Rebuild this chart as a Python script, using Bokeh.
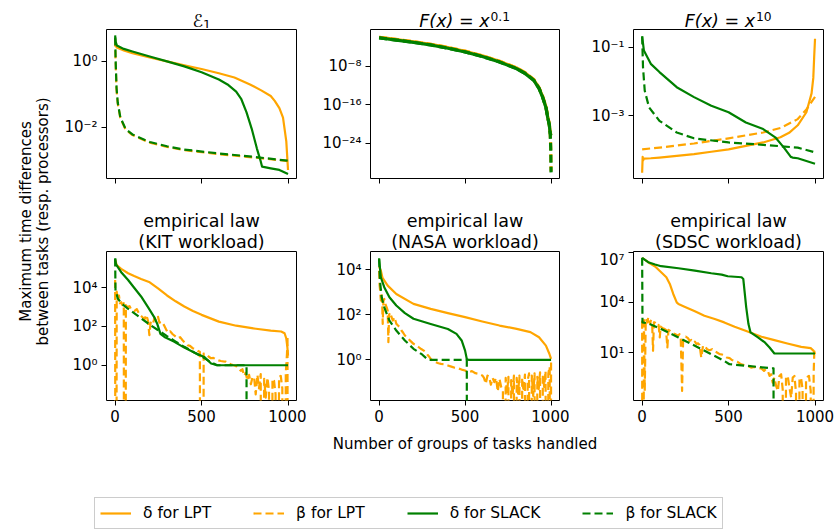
import numpy as np
from bokeh.plotting import figure
from bokeh.models import Range1d, FixedTicker, CustomJSTickFormatter, Legend, LegendItem, Label
from bokeh.layouts import row, column
from bokeh.embed import file_html
from bokeh.resources import INLINE

FONT = "DejaVu Sans"
ORANGE = "#ffa500"
GREEN = "#008000"
DASH = "8 4"

# ---------------- texts ----------------
x_ticks = [0, 500, 1000]
x_label = "Number of groups of tasks handled"
y_label_lines = ["Maximum time differences", "between tasks (resp. processors)"]
legend_labels = ["δ for LPT", "β for LPT", "δ for SLACK", "β for SLACK"]
row2_titles = [("empirical law", "(KIT workload)"),
               ("empirical law", "(NASA workload)"),
               ("empirical law", "(SDSC workload)")]

# ---------------- data (x, log10 of y) ----------------
# E_1
e1_lpt_delta_x = [0, 10, 50, 100, 200, 300, 400, 500, 600, 690, 780, 845, 900, 923, 950, 971, 990, 1000]
e1_lpt_delta_log = [0.50, 0.42, 0.33, 0.25, 0.12, 0.00, -0.12, -0.23, -0.36, -0.49, -0.70, -0.88, -1.05, -1.20, -1.42, -1.71, -2.43, -3.30]
e1_lpt_beta_x = [0, 3, 8, 15, 30, 60, 100, 200, 300, 400, 600, 800, 1000]
e1_lpt_beta_log = [0.70, -0.05, -0.85, -1.28, -1.72, -2.07, -2.24, -2.47, -2.60, -2.70, -2.82, -2.92, -3.03]
e1_slack_delta_x = [0, 3, 10, 50, 100, 200, 300, 400, 500, 600, 650, 700, 730, 760, 790, 820, 840, 850, 900, 950, 1000]
e1_slack_delta_log = [0.79, 0.60, 0.48, 0.38, 0.30, 0.15, 0.00, -0.15, -0.33, -0.55, -0.70, -0.92, -1.15, -1.55, -2.05, -2.65, -3.00, -3.20, -3.25, -3.30, -3.42]
e1_slack_beta_x = [0, 3, 8, 15, 30, 60, 100, 200, 300, 400, 600, 800, 1000]
e1_slack_beta_log = [0.73, 0.00, -0.80, -1.25, -1.70, -2.05, -2.22, -2.45, -2.58, -2.68, -2.80, -2.90, -3.02]

# F(x) = x^0.1
p01_delta_x = [0, 50, 100, 200, 300, 400, 500, 600, 700, 800, 850, 900, 930, 950, 970, 980, 990, 995, 1000]
p01_lpt_delta_log = [-2.05, -2.28, -2.52, -2.98, -3.52, -4.18, -4.95, -5.90, -7.02, -8.40, -9.45, -10.85, -12.55, -14.25, -16.45, -18.45, -20.15, -21.85, -22.25]
p01_slack_delta_log = [-2.20, -2.42, -2.66, -3.12, -3.66, -4.32, -5.10, -6.05, -7.18, -8.57, -9.60, -11.00, -12.70, -14.40, -16.60, -18.60, -20.30, -22.00, -22.40]
p01_beta_x = [0, 50, 100, 200, 300, 400, 500, 600, 700, 800, 850, 900, 930, 950, 970, 980, 990, 995, 998, 1000]
p01_lpt_beta_log = [-2.05, -2.27, -2.50, -2.96, -3.50, -4.16, -4.93, -5.88, -7.00, -8.40, -9.40, -10.80, -12.45, -14.15, -16.35, -18.35, -20.05, -21.85, -24.8, -29.8]
p01_slack_beta_log = [-2.15, -2.40, -2.64, -3.10, -3.64, -4.30, -5.08, -6.03, -7.15, -8.55, -9.55, -10.95, -12.60, -14.30, -16.50, -18.50, -20.20, -22.00, -25.0, -30.0]

# F(x) = x^10
x10_lpt_delta_x = [0, 3, 6, 10, 50, 100, 200, 300, 400, 500, 600, 700, 800, 850, 900, 950, 980, 990, 995, 1000]
x10_lpt_delta_log = [-4.66, -4.20, -4.30, -4.25, -4.24, -4.22, -4.17, -4.12, -4.05, -3.98, -3.88, -3.78, -3.63, -3.50, -3.28, -2.90, -2.35, -1.90, -1.30, -0.76]
x10_lpt_beta_x = [0, 100, 300, 500, 700, 800, 900, 950, 980, 1000]
x10_lpt_beta_log = [-3.98, -3.93, -3.81, -3.66, -3.49, -3.36, -3.10, -2.82, -2.60, -2.45]
x10_slack_delta_x = [0, 10, 50, 100, 200, 300, 400, 500, 600, 700, 770, 820, 860, 870, 900, 1000]
x10_slack_delta_log = [-0.69, -1.10, -1.49, -1.73, -2.17, -2.46, -2.71, -2.90, -3.20, -3.39, -3.63, -3.93, -4.20, -4.22, -4.24, -4.40]
x10_slack_beta_x = [0, 5, 15, 40, 100, 200, 300, 500, 700, 900, 1000]
x10_slack_beta_log = [-0.69, -1.59, -2.27, -2.76, -3.15, -3.49, -3.66, -3.78, -3.85, -3.93, -4.07]

# empirical law, KIT workload
kit_lpt_delta_x = [0, 10, 35, 75, 110, 150, 200, 250, 300, 350, 400, 450, 500, 600, 700, 800, 900, 960, 980, 990, 996, 1000]
kit_lpt_delta_log = [5.45, 5.15, 4.97, 4.75, 4.60, 4.45, 4.28, 3.95, 3.60, 3.30, 3.03, 2.80, 2.60, 2.25, 2.04, 1.90, 1.79, 1.74, 1.65, 1.38, 0.95, 0.50]
kit_lpt_beta_x = [0, 4, 9, 15, 22, 28, 35, 42, 50, 54, 58, 62, 70, 83, 95, 112, 125, 140, 155, 170, 180, 190, 198, 205, 217, 228, 237, 248, 256, 270, 285, 295, 304, 318, 333, 347, 362, 376, 390, 405, 419, 433, 448, 462, 477, 490, 498, 506, 512, 525, 540, 554, 568, 583, 598, 612, 626, 640, 655, 669, 684, 698, 712, 727, 736, 746, 755, 765, 775, 785, 795, 804, 813, 823, 832, 842, 852, 862, 871, 881, 890, 900, 910, 919, 928, 938, 948, 958, 967, 977, 987, 994, 997, 1000]
kit_lpt_beta_log = [4.40, -40, 3.80, 3.40, 3.60, 3.20, 3.25, 3.10, 3.20, -40, -40, 3.10, 3.00, 3.05, 2.85, 2.80, 2.90, 2.63, 2.50, 2.37, 2.60, 2.30, 1.55, 2.20, 2.10, 2.45, 2.30, 2.50, 2.20, 2.25, 2.03, 1.85, 1.68, 1.75, 1.60, 1.50, 1.39, 1.45, 1.29, 1.15, 1.03, 1.00, 0.88, 0.82, 0.74, 0.70, -40, -40, 0.60, 0.57, 0.45, 0.36, 0.38, 0.31, 0.25, 0.22, 0.20, 0.19, 0.10, 0.05, 0.00, -0.03, -0.15, -0.29, -0.20, -0.55, -0.40, -0.80, -0.50, -0.98, -0.60, -0.64, -1.50, -0.50, -1.20, -0.46, -40, -0.70, -1.67, -0.64, -1.30, -40, -0.70, -0.80, -1.50, -40, -0.60, -0.55, -1.20, -40, -0.40, 0.60, 1.50, -40]
kit_slack_delta_x = [0, 5, 35, 75, 110, 150, 190, 225, 245, 262, 285, 340, 400, 460, 515, 555, 590, 1000]
kit_slack_delta_log = [5.51, 5.20, 4.80, 4.40, 4.00, 3.55, 3.00, 2.50, 2.10, 1.62, 1.46, 1.22, 0.91, 0.65, 0.43, 0.09, 0.00, 0.00]
kit_slack_beta_x = [0, 2, 15, 35, 70, 100, 150, 200, 250, 300, 350, 400, 450, 500, 550, 590, 760, 762, 1000]
kit_slack_beta_log = [5.51, 3.90, 3.45, 3.20, 2.95, 2.75, 2.42, 2.10, 1.80, 1.50, 1.22, 0.95, 0.70, 0.45, 0.18, 0.00, 0.00, -40, -40]

# empirical law, NASA workload
nasa_lpt_delta_x = [0, 10, 20, 50, 100, 200, 300, 400, 500, 600, 700, 800, 880, 930, 970, 990, 1000]
nasa_lpt_delta_log = [4.13, 3.96, 3.63, 3.29, 2.92, 2.48, 2.26, 2.07, 1.89, 1.70, 1.52, 1.37, 1.23, 1.00, 0.63, 0.27, 0.04]
nasa_lpt_beta_x = [0, 3, 6, 10, 14, 18, 21, 25, 30, 35, 40, 45, 50, 54, 58, 65, 72, 80, 90, 100, 110, 120, 130, 140, 150, 160, 170, 185, 200, 215, 230, 245, 260, 270, 280, 290, 300, 315, 330, 345, 360, 380, 400, 420, 440, 460, 480, 500, 520, 540, 560, 580, 600, 610, 620, 630, 640, 650, 660, 670, 680, 690, 700, 710, 720, 728, 736, 744, 752, 760, 768, 776, 784, 792, 800, 808, 816, 824, 832, 840, 848, 856, 864, 872, 880, 888, 896, 904, 912, 920, 928, 936, 944, 952, 960, 968, 976, 984, 992, 996, 1000]
nasa_lpt_beta_log = [3.95, 3.30, 3.07, 2.63, 2.90, 2.50, 1.59, 2.60, 2.70, 2.50, 2.40, 2.30, 2.18, 0.78, 2.00, 2.10, 1.90, 1.74, 1.89, 1.60, 1.52, 1.45, 1.30, 1.20, 1.08, 1.00, 0.93, 0.82, 0.71, 0.65, 0.56, 0.48, 0.41, 0.35, 0.24, 0.15, 0.04, -0.05, -0.10, -0.15, -0.18, -0.20, -0.25, -0.30, -0.35, -0.38, -0.43, -0.47, -0.55, -0.50, -0.59, -0.62, -0.69, -0.80, -1.06, -0.70, -0.75, -1.10, -0.80, -0.99, -0.80, -1.40, -0.85, -1.20, -1.36, -40, -0.80, -1.50, -0.75, -40, -0.90, -1.60, -0.70, -40, -0.80, -1.50, -0.70, -40, -0.80, -1.40, -0.65, -40, -0.90, -0.60, -40, -0.70, -1.60, -0.60, -40, -0.75, -1.30, -0.55, -40, -0.70, -1.20, -0.50, -40, -0.60, -0.30, -40, 0.00]
nasa_slack_delta_x = [0, 10, 30, 60, 100, 150, 200, 300, 400, 450, 480, 500, 510, 520, 1000]
nasa_slack_delta_log = [4.50, 3.66, 3.22, 2.77, 2.41, 2.07, 1.82, 1.59, 1.37, 1.15, 0.86, 0.41, 0.04, 0.00, 0.00]
nasa_slack_beta_x = [0, 5, 15, 30, 60, 100, 150, 200, 250, 280, 300, 510, 512, 1000]
nasa_slack_beta_log = [4.47, 3.51, 2.77, 2.33, 1.74, 1.30, 0.86, 0.49, 0.24, 0.03, 0.00, 0.00, -40, -40]

# empirical law, SDSC workload
sdsc_lpt_delta_x = [0, 35, 75, 110, 140, 160, 180, 200, 210, 245, 305, 360, 420, 475, 535, 610, 690, 765, 840, 920, 975, 992, 1000]
sdsc_lpt_delta_log = [6.66, 6.40, 6.14, 5.80, 5.50, 5.10, 4.50, 4.00, 3.90, 3.74, 3.46, 3.20, 3.00, 2.80, 2.54, 2.26, 1.94, 1.74, 1.54, 1.34, 1.26, 1.10, 0.90]
sdsc_lpt_beta_x = [0, 4, 10, 15, 21, 26, 31, 35, 40, 46, 50, 54, 58, 63, 68, 73, 80, 88, 95, 102, 107, 112, 120, 131, 138, 146, 152, 160, 170, 179, 190, 200, 208, 216, 223, 231, 237, 242, 252, 265, 275, 285, 294, 305, 315, 323, 332, 342, 352, 362, 375, 390, 405, 419, 433, 448, 462, 477, 490, 506, 520, 535, 550, 565, 573, 590, 612, 630, 650, 670, 688, 705, 715, 727, 737, 746, 755, 765, 775, 785, 794, 804, 813, 823, 832, 842, 852, 862, 871, 881, 890, 900, 910, 919, 928, 938, 948, 958, 965, 975, 985, 992, 996, 1000]
sdsc_lpt_beta_log = [2.90, -40, 3.10, -1.30, 3.00, 2.90, 2.80, 3.10, 3.05, 2.70, 2.90, 2.86, 2.70, 1.10, 2.80, 2.80, 2.70, 2.60, 2.65, 1.90, 2.55, 2.50, 2.45, 2.40, 2.35, 1.30, 2.35, 2.30, 2.20, 2.14, 2.10, 2.05, 2.00, 2.10, 1.95, -1.30, 1.80, 1.90, 1.95, 1.86, 1.70, 1.75, 1.60, 1.65, 1.50, 1.55, 1.45, 0.70, 1.40, 1.40, 1.20, 1.14, 1.20, 1.10, 1.00, 0.90, 0.88, 0.80, 0.70, 0.66, 0.55, 0.50, 0.45, 0.35, 0.30, 0.25, 0.20, 0.10, 0.14, 0.05, 0.06, -0.10, 0.00, -0.10, -0.40, -0.30, -0.80, -0.50, -1.00, -1.30, -0.40, -0.30, -1.20, -40, -0.50, -0.40, -1.10, -1.70, -0.50, -0.40, -1.40, -40, -0.60, -0.50, -1.20, -40, -0.70, -0.45, -0.40, -1.30, -40, -0.30, 1.10, 1.20]
sdsc_slack_delta_x = [0, 35, 75, 110, 210, 305, 400, 460, 495, 575, 585, 592, 602, 615, 627, 670, 710, 737, 765, 1000]
sdsc_slack_delta_log = [6.66, 6.40, 6.26, 6.16, 6.04, 5.90, 5.74, 5.66, 5.56, 5.50, 5.40, 4.70, 3.70, 2.70, 2.20, 1.90, 1.60, 1.30, 0.94, 0.94]
sdsc_slack_beta_x = [0, 2, 35, 110, 210, 305, 400, 475, 505, 610, 745, 760, 762, 1000]
sdsc_slack_beta_log = [6.66, 2.80, 2.74, 2.40, 1.90, 1.40, 0.90, 0.50, 0.30, 0.20, 0.06, 0.06, -40, -40]

# y ranges (log10) and y ticks (exponents) of the six panels
panel_ylog = [(-3.56, 0.97), (-31.27, -0.45), (-4.83, -0.49),
              (-1.82, 5.87), (-1.80, 4.80), (-1.87, 7.04)]
panel_yticks = [[-2, 0], [-24, -16, -8], [-3, -1],
                [0, 2, 4], [0, 2, 4], [1, 4, 7]]

X_LO, X_HI = -50, 1049

SUP_JS = """
const sup = {"-": "\u207b", "0": "\u2070", "1": "\u00b9", "2": "\u00b2", "3": "\u00b3",
             "4": "\u2074", "5": "\u2075", "6": "\u2076", "7": "\u2077", "8": "\u2078", "9": "\u2079"};
const e = Math.round(Math.log10(tick));
return "10" + String(e).split("").map(c => sup[c]).join("");
"""

TFS = "17.5px"
SFS = "12.3px"


def to_val(logs):
    return [10.0 ** v for v in logs]


def make_panel(width, height, b_left, b_right, b_bottom, idx, series, show_x_labels, lw=2.2):
    lo, hi = panel_ylog[idx]
    p = figure(width=width, height=height, y_axis_type="log", title=None,
               x_range=Range1d(X_LO, X_HI), y_range=Range1d(10.0 ** lo, 10.0 ** hi),
               min_border_left=b_left, min_border_right=b_right,
               min_border_top=1, min_border_bottom=b_bottom,
               toolbar_location=None, output_backend="svg")
    p.grid.visible = False
    p.outline_line_color = "black"
    p.outline_line_width = 1
    p.outline_line_alpha = 1
    p.background_fill_color = "white"
    p.border_fill_color = "white"
    for ax in p.axis:
        ax.axis_line_color = None
        ax.major_tick_line_color = "black"
        ax.major_tick_line_width = 1
        ax.major_tick_out = 5
        ax.major_tick_in = 0
        ax.minor_tick_line_color = None
        ax.major_label_text_font = FONT
        ax.major_label_text_font_size = "15px"
        ax.major_label_text_color = "black"
        ax.major_label_standoff = 4
    p.xaxis.ticker = FixedTicker(ticks=x_ticks)
    if not show_x_labels:
        p.xaxis.formatter = CustomJSTickFormatter(code="return '';")
        p.xaxis.major_label_standoff = 0
    p.yaxis.ticker = FixedTicker(ticks=[10.0 ** e for e in panel_yticks[idx]])
    p.yaxis.formatter = CustomJSTickFormatter(code=SUP_JS)
    for xs, logs, color, dash in series:
        p.line(xs, to_val(logs), line_color=color, line_width=lw, line_dash=dash,
               line_join="round")
    return p


def series(lpt_d, lpt_b, sl_d, sl_b):
    return [(lpt_d[0], lpt_d[1], ORANGE, "solid"),
            (lpt_b[0], lpt_b[1], ORANGE, DASH),
            (sl_d[0], sl_d[1], GREEN, "solid"),
            (sl_b[0], sl_b[1], GREEN, DASH)]


def blank(w, h):
    p = figure(width=w, height=h, x_range=Range1d(0, w), y_range=Range1d(0, h), title=None,
               x_axis_location=None, y_axis_location=None,
               min_border=0, min_border_left=0, min_border_right=0,
               min_border_top=0, min_border_bottom=0,
               toolbar_location=None, output_backend="svg")
    p.grid.visible = False
    p.outline_line_color = None
    p.background_fill_color = "white"
    p.border_fill_color = "white"
    p.line([-100, -90], [-100, -100], line_color="white", line_alpha=0)
    return p


def add_text(p, x, y, txt, size, align="center", italic=False, angle=0.0):
    p.add_layout(Label(x=x, y=y, text=txt, text_font=FONT, text_font_size=size,
                       text_align=align, text_baseline="alphabetic", text_color="black",
                       text_font_style="italic" if italic else "normal", angle=angle))


s1 = series((e1_lpt_delta_x, e1_lpt_delta_log), (e1_lpt_beta_x, e1_lpt_beta_log),
            (e1_slack_delta_x, e1_slack_delta_log), (e1_slack_beta_x, e1_slack_beta_log))
s2 = series((p01_delta_x, p01_lpt_delta_log), (p01_beta_x, p01_lpt_beta_log),
            (p01_delta_x, p01_slack_delta_log), (p01_beta_x, p01_slack_beta_log))
s3 = series((x10_lpt_delta_x, x10_lpt_delta_log), (x10_lpt_beta_x, x10_lpt_beta_log),
            (x10_slack_delta_x, x10_slack_delta_log), (x10_slack_beta_x, x10_slack_beta_log))
s4 = series((kit_lpt_delta_x, kit_lpt_delta_log), (kit_lpt_beta_x, kit_lpt_beta_log),
            (kit_slack_delta_x, kit_slack_delta_log), (kit_slack_beta_x, kit_slack_beta_log))
s5 = series((nasa_lpt_delta_x, nasa_lpt_delta_log), (nasa_lpt_beta_x, nasa_lpt_beta_log),
            (nasa_slack_delta_x, nasa_slack_delta_log), (nasa_slack_beta_x, nasa_slack_beta_log))
s6 = series((sdsc_lpt_delta_x, sdsc_lpt_delta_log), (sdsc_lpt_beta_x, sdsc_lpt_beta_log),
            (sdsc_slack_delta_x, sdsc_slack_delta_log), (sdsc_slack_beta_x, sdsc_slack_beta_log))

p1 = make_panel(248, 160, 48, 10, 10, 0, s1, False)
p2 = make_panel(263, 160, 64, 10, 10, 1, s2, False, lw=3.2)
p3 = make_panel(269, 160, 64, 15, 10, 2, s3, False)
p4 = make_panel(248, 180, 48, 10, 30, 3, s4, True)
p5 = make_panel(263, 180, 64, 10, 30, 4, s5, True)
p6 = make_panel(269, 180, 64, 15, 30, 5, s6, True)

# ---- titles, row 1 ----
t1 = blank(780, 28)
centers = [143, 406.5, 670]
add_text(t1, centers[0] + 1.5, 8, "ℰ", TFS, align="right", italic=True)
add_text(t1, centers[0] + 1.5, 4.5, "1", SFS, align="left")
add_text(t1, centers[1] + 24.5, 8, "F(x) = x", TFS, align="right", italic=True)
add_text(t1, centers[1] + 25.5, 12.5, "0.1", SFS, align="left")
add_text(t1, centers[2] + 26.5, 8, "F(x) = x", TFS, align="right", italic=True)
add_text(t1, centers[2] + 27.5, 12.5, "10", SFS, align="left")

# ---- titles, row 2 ----
t2 = blank(780, 62)
for cx, (a, b) in zip(centers, row2_titles):
    add_text(t2, cx, 29.3, a, TFS)
    add_text(t2, cx, 8.3, b, TFS)

# ---- y label strip ----
strip = blank(58, 430)
add_text(strip, 25, 209, y_label_lines[0], "15px", angle=np.pi / 2)
add_text(strip, 42.5, 209, y_label_lines[1], "15px", angle=np.pi / 2)

# ---- bottom: x label + legend ----
bottom = blank(838, 101)
add_text(bottom, 464.5, 88, x_label, "15px")
styles = [(ORANGE, "solid"), (ORANGE, DASH), (GREEN, "solid"), (GREEN, DASH)]
items = []
for lab, (c, d) in zip(legend_labels, styles):
    r = bottom.line([-100, -90], [-100, -100], line_color=c, line_width=2.2, line_dash=d)
    items.append(LegendItem(label=lab, renderers=[r]))
legend = Legend(items=items, orientation="horizontal", location=(94, 2), margin=0,
                padding=5, spacing=42, glyph_width=31, glyph_height=20, label_height=20,
                label_standoff=12, label_text_font=FONT, label_text_font_size="15.5px",
                label_text_color="black", border_line_color="#cccccc", border_line_width=1,
                border_line_alpha=1, background_fill_color="white", background_fill_alpha=1)
bottom.add_layout(legend, "center")

layout = column(row(strip, column(t1, row(p1, p2, p3), t2, row(p4, p5, p6))), bottom)

open("out.html", "w", encoding="utf-8").write(file_html(layout, INLINE))
